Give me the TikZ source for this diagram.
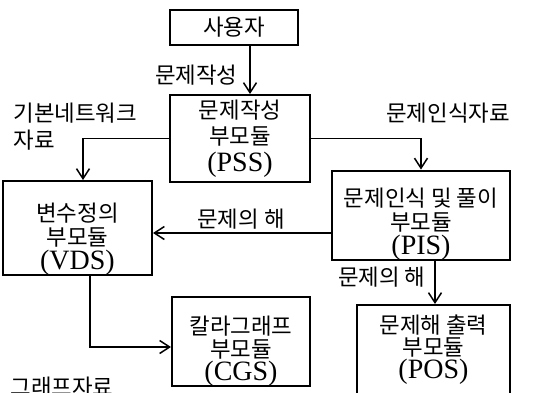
\documentclass[tikz,border=0pt]{standalone}
\usepackage{fontspec}
\setmainfont{Liberation Serif}
\newfontfamily\krfont{Noto Sans CJK KR}[Scale=0.8]
\newcommand\kr[1]{{\krfont #1}}
\newcommand\lift[1]{\rule{0pt}{#1}}
\usetikzlibrary{arrows.meta,calc}
\lineskiplimit=-20pt

\tikzset{
  modbox/.style={draw,line width=1pt,align=center,inner sep=0pt},
  flow/.style={line width=0.75pt,-{Straight Barb[length=5pt,width=6.5pt,line width=0.75pt]}},
  lbl/.style={inner sep=0pt}
}

\begin{document}
\begin{tikzpicture}[x=0.5pt,y=-0.5pt,font=\fontsize{14}{12}\selectfont]

\useasboundingbox (0,0) rectangle (542,392);
\clip (0,0) rectangle (542,392);

% modules
\node[modbox,minimum width=64pt,minimum height=17.5pt] (user) at (234,27.5) {\kr{사용자}};
\node[modbox,minimum width=70pt,minimum height=43.5pt,font=\fontsize{14}{13.3}\selectfont] (pss) at (240,138.5)
  {\kr{문제작성}\\\kr{부모듈}\\(PSS)};
\node[modbox,minimum width=74.5pt,minimum height=40pt] (vds) at (77.5,228)
  {\lift{20pt}\kr{변수정의}\\\kr{부모듈}\\(VDS)};
\node[modbox,minimum width=89pt,minimum height=40.5pt] (pis) at (421,215.5)
  {\lift{18pt}\kr{문제인식 및 풀이}\\\kr{부모듈}\\(PIS)};
\node[modbox,minimum width=69pt,minimum height=36.5pt,font=\fontsize{14}{11.3}\selectfont] (cgs) at (241,341.5)
  {\lift{19pt}\kr{칼라그래프}\\\kr{부모듈}\\(CGS)};
\node[modbox,minimum width=76.5pt,minimum height=44.5pt,font=\fontsize{14}{11.3}\selectfont] (pos) at (433.5,349.5)
  {\kr{문제해 출력}\\\kr{부모듈}\\(POS)};

% flows
\coordinate (usrx) at (250,0);
\draw[flow] (user.south -| usrx) -- (pss.north -| usrx);
\draw[flow] (pss.west) -| ($(vds.north)+(5.5,0)$);
\draw[flow] (pss.east) -| (pis.north);
\draw[flow] ($(pis.west)+(0,17.5)$) -- ($(vds.east)+(0,5)$);
\draw[flow] ($(pis.south)+(14,0)$) -- ($(pos.north)+(1.5,0)$);
\draw[flow] ($(vds.south)+(12.5,0)$) |- ($(cgs.west)+(0,5.5)$);

% labels
\node[lbl,anchor=east] (lwrite) at (238,75) {\kr{문제작성}};
\node[lbl,anchor=west,align=left,font=\fontsize{14}{13.5}\selectfont] (lnet) at (13,126.5)
  {\kr{기본네트워크}\\\kr{자료}};
\node[lbl] (lrec) at (448,113) {\kr{문제인식자료}};
\node[lbl] (lsol) at (241,219) {\kr{문제의 해}};
\node[lbl,anchor=east] (lsol2) at (426,277) {\kr{문제의 해}};
\node[lbl,anchor=west] (lgraph) at (10,387) {\kr{그래프자료}};

\end{tikzpicture}
\end{document}
